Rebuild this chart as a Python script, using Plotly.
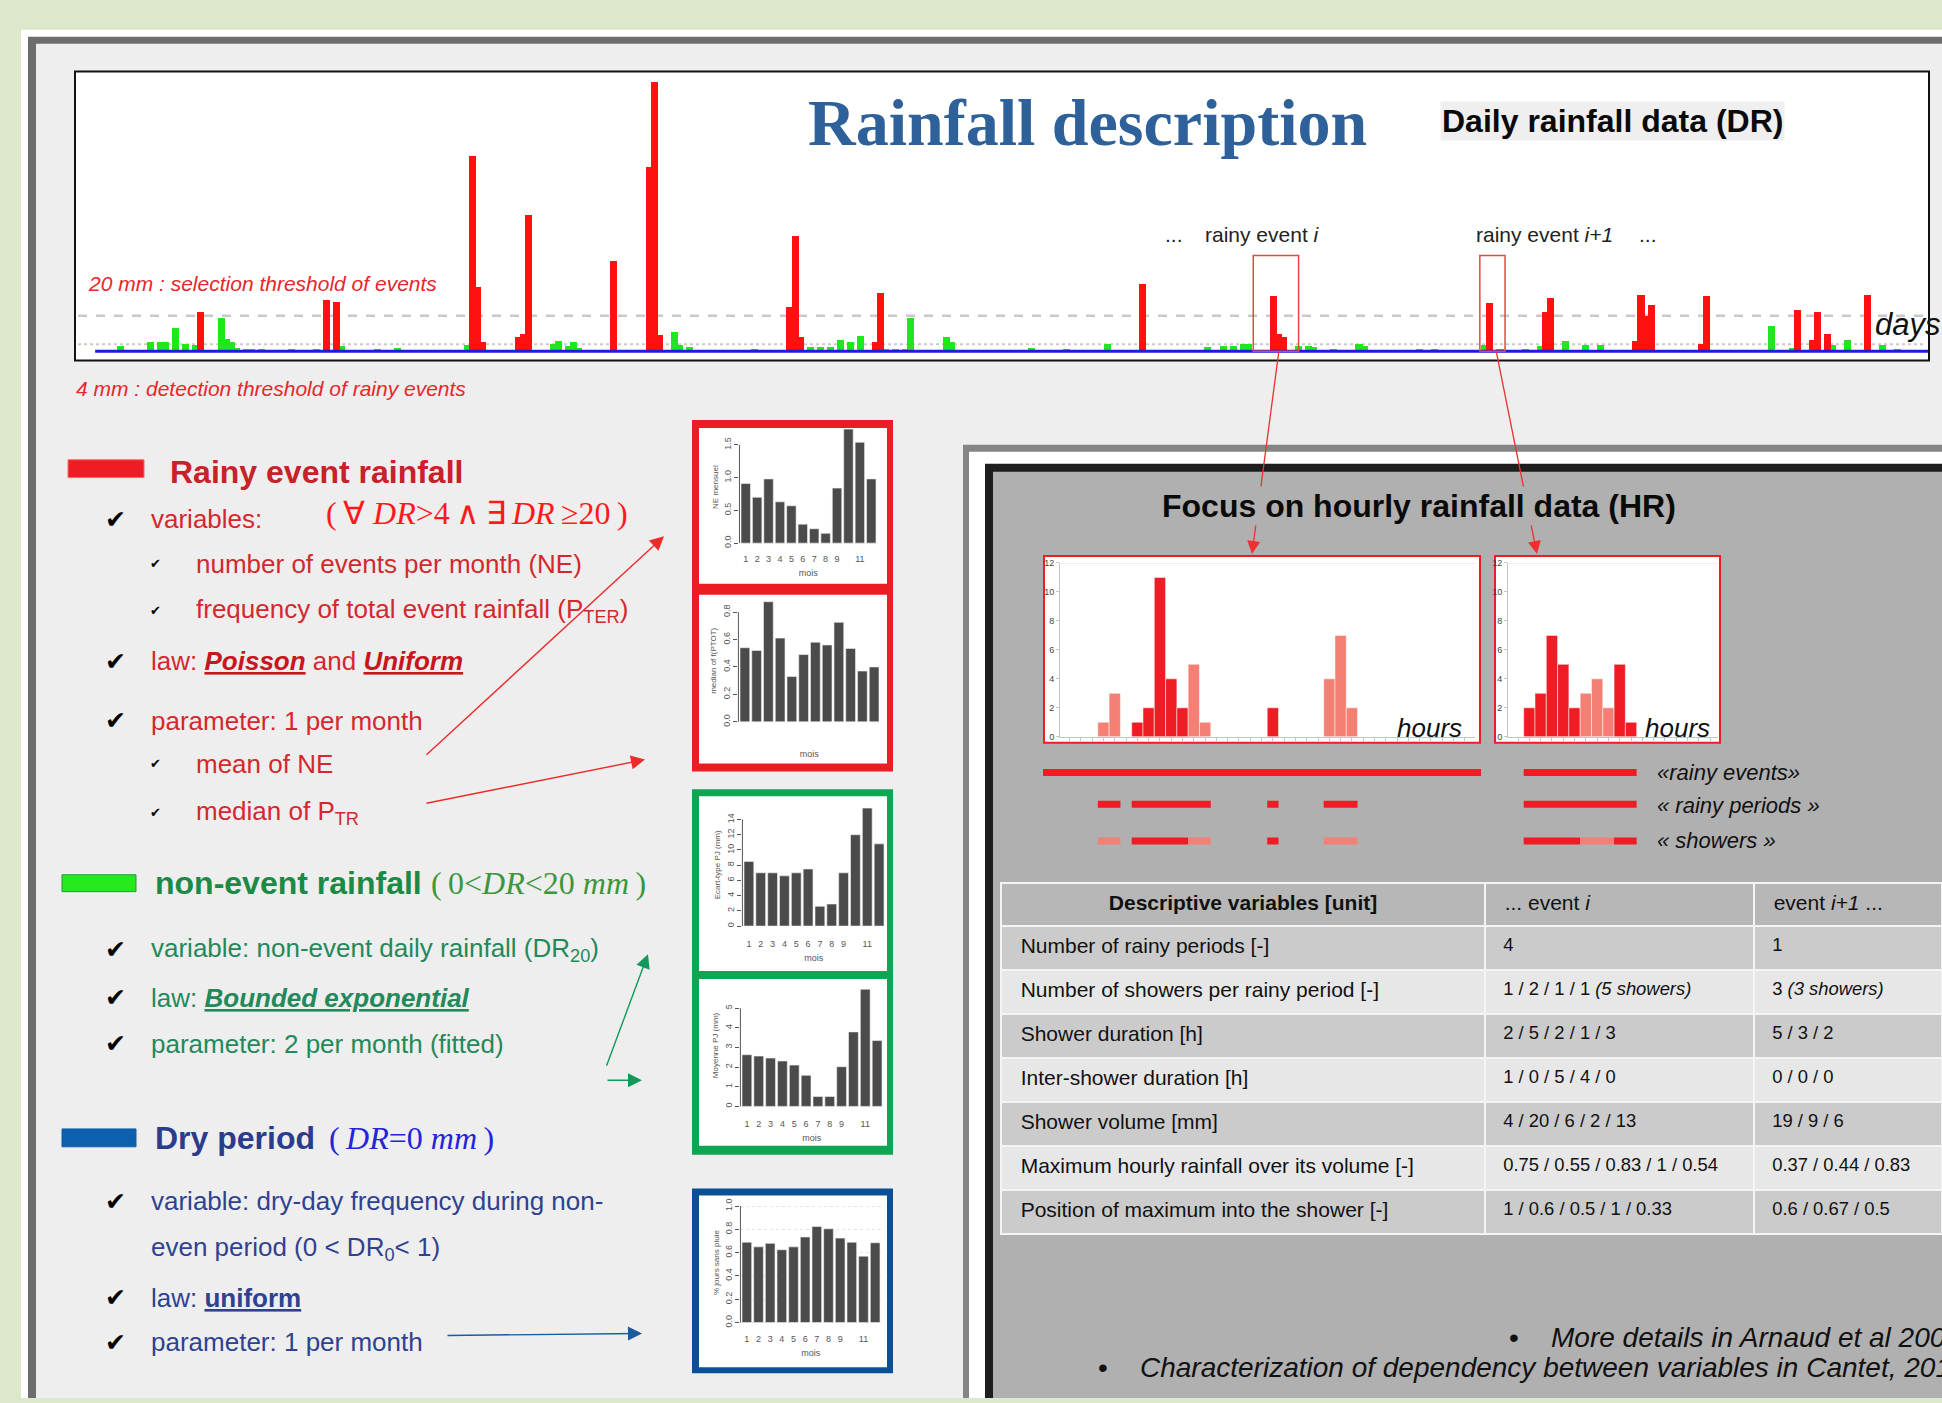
import plotly.graph_objects as go

W, H = 1942, 1403


def X(p):
    return p / W


def Y(p):
    return 1 - p / H


# ------------------------------------------------------------------ data
# Daily rainfall series (one year, day index) -------------------------
days_range = [1, 365]
dry_level = 0
event_days = [22, 47, 49, 76, 77, 78, 85, 86, 87, 104, 111, 112, 113, 139, 140, 141, 156, 157,
              209, 235, 236, 237, 278, 289, 290, 307, 308, 309, 310, 320, 321, 339, 342, 343, 345, 353]
event_mm = [22, 29, 28, 110, 36, 5, 8, 10, 77, 51, 104, 152, 9, 25, 65, 8, 5, 33,
            38, 31, 10, 8, 27, 22, 30, 6, 32, 20, 26, 4, 31, 23, 6.5, 22, 10, 31.5]
nonevent_days = [6, 12, 14, 15, 17, 19, 21, 26, 27, 28, 29, 31, 32, 34, 40, 45, 50, 57, 61, 75,
                 92, 93, 95, 96, 97, 116, 117, 119, 122, 132, 143, 145, 147, 149, 151, 153, 158, 160,
                 162, 163, 170, 171, 187, 194, 202, 222, 225, 227, 229, 230, 240, 242, 243, 247, 252,
                 253, 264, 267, 277, 280, 285, 288, 293, 297, 300, 334, 338, 346, 349, 356, 359]
nonevent_mm = [3, 5, 5, 5, 13, 4, 3.5, 19, 7, 5, 2, 1.5, 1.5, 1.5, 1, 1, 3, 1.5, 2, 3.5,
               4, 6, 3, 5, 2, 11, 3.5, 2.5, 0.8, 1.5, 2.5, 2.5, 2.5, 6.5, 5, 8.5, 1.5, 1.5,
               1.5, 19, 8, 5, 2, 1, 4, 2.5, 3, 3, 4, 4, 3, 3, 2.5, 1, 4,
               3, 1, 1, 3.5, 1.5, 1, 3, 6, 3.5, 3.5, 14, 2, 3.5, 6.5, 3.5, 1.5]
selection_threshold = 20
detection_threshold = 4
event_windows = [(231, 240), (276, 281)]   # rainy event i and i+1 (days)
event_window_top = 54                       # mm

# Monthly statistics (mini R barplots) ----------------------------------
months = list(range(1, 13))
month_ticks = [1, 2, 3, 4, 5, 6, 7, 8, 9, 11]
ne_monthly = [0.91, 0.70, 0.98, 0.63, 0.57, 0.29, 0.22, 0.15, 0.84, 1.74, 1.54, 0.98]
ptr_median = [0.54, 0.52, 0.875, 0.61, 0.33, 0.49, 0.58, 0.56, 0.725, 0.535, 0.37, 0.40]
dr20_std = [8.5, 7.0, 7.0, 6.6, 7.0, 7.5, 2.6, 2.9, 7.0, 12.0, 15.5, 10.8]
dr20_mean = [2.63, 2.56, 2.46, 2.31, 2.10, 1.58, 0.50, 0.50, 2.02, 3.79, 5.96, 3.35]
dry_freq = [0.69, 0.65, 0.68, 0.625, 0.65, 0.735, 0.825, 0.805, 0.725, 0.69, 0.57, 0.685]

# Hourly rainfall of the two highlighted events ------------------------
hours_i = [4, 5, 7, 8, 9, 10, 11, 12, 13, 19, 24, 25, 26]
rain_i = [1, 3, 1, 2, 11, 4, 2, 5, 1, 2, 4, 7, 2]
shower_i = [1, 1, 2, 2, 2, 2, 2, 3, 3, 4, 5, 5, 5]
hours_i1 = [2, 3, 4, 5, 6, 7, 8, 9, 10, 11]
rain_i1 = [2, 3, 7, 5, 2, 3, 4, 2, 5, 1]
shower_i1 = [1, 1, 1, 1, 1, 2, 2, 2, 3, 3]
RED, SALMON = "#ee1c24", "#f47f74"
shower_colors_i = {1: SALMON, 2: RED, 3: SALMON, 4: RED, 5: SALMON}
shower_colors_i1 = {1: RED, 2: SALMON, 3: RED}

# Table ----------------------------------------------------------------
table_header = ["<b>Descriptive variables [unit]</b>", "&nbsp;&nbsp;... event <i>i</i>",
                "&nbsp;&nbsp;event <i>i+1</i> ..."]
table_vars = ["Number of rainy periods [-]", "Number of showers per rainy period [-]",
              "Shower duration [h]", "Inter-shower duration [h]", "Shower volume [mm]",
              "Maximum hourly rainfall over its volume [-]", "Position of maximum into the shower [-]"]
table_event_i = ["4", "1 / 2 / 1 / 1 <i>(5 showers)</i>", "2 / 5 / 2 / 1 / 3", "1 / 0 / 5 / 4 / 0",
                 "4 / 20 / 6 / 2 / 13", "0.75 / 0.55 / 0.83 / 1 / 0.54", "1 / 0.6 / 0.5 / 1 / 0.33"]
table_event_i1 = ["1", "3 <i>(3 showers)</i>", "5 / 3 / 2", "0 / 0 / 0", "19 / 9 / 6",
                  "0.37 / 0.44 / 0.83", "0.6 / 0.67 / 0.5"]

# ------------------------------------------------------------------ figure
fig = go.Figure()
shapes = []
ann = []


def rect(x0, y0, x1, y1, fill, line=None, lw=0, layer="below"):
    shapes.append(dict(type="rect", xref="paper", yref="paper", x0=X(x0), x1=X(x1),
                       y0=Y(y1), y1=Y(y0), fillcolor=fill, layer=layer,
                       line=dict(color=line or fill, width=lw)))


def txt(x, y, s, size=26, color="#000", family="Liberation Sans", xanchor="left", bg=None):
    d = dict(x=X(x), y=Y(y), xref="paper", yref="paper", text=s, showarrow=False,
             xanchor=xanchor, yanchor="middle", font=dict(size=size, color=color, family=family))
    if bg:
        d["bgcolor"] = bg
    ann.append(d)


def arrow(tail, head, color, width=1.5, size=1.8):
    ann.append(dict(x=X(head[0]), y=Y(head[1]), xref="paper", yref="paper", text="",
                    showarrow=True, ax=tail[0] - head[0], ay=tail[1] - head[1],
                    arrowhead=2, arrowsize=size, arrowwidth=width, arrowcolor=color,
                    standoff=0, startstandoff=0))


# backgrounds
rect(21, 25, W, H, "#ffffff")
rect(28, 32, W, H, "#6d6d6d")
rect(36, 39, W, H, "#eeeeee")

# ---------------- daily chart
rect(75, 67, 1929, 358, "#ffffff", "#111111", 2)
shapes.append(dict(type="line", xref="paper", yref="y", x0=X(78), x1=X(1926),
                   y0=selection_threshold, y1=selection_threshold, layer="below",
                   line=dict(color="#c9c9c9", width=2.5, dash="dash")))
shapes.append(dict(type="line", xref="paper", yref="y", x0=X(78), x1=X(1926),
                   y0=detection_threshold, y1=detection_threshold, layer="below",
                   line=dict(color="#c9c9c9", width=2, dash="dot")))

fig.add_trace(go.Scatter(x=days_range, y=[dry_level, dry_level], mode="lines",
                         line=dict(color="#1c1cdc", width=3), xaxis="x", yaxis="y",
                         hoverinfo="skip"))
fig.add_trace(go.Bar(x=nonevent_days, y=nonevent_mm, width=1.4, marker=dict(color="#1fe61f", line=dict(width=0)),
                     xaxis="x", yaxis="y"))
fig.add_trace(go.Bar(x=event_days, y=event_mm, width=1.4, marker=dict(color="#ff1111", line=dict(width=0)),
                     xaxis="x", yaxis="y"))
for (a, b) in event_windows:
    shapes.append(dict(type="rect", xref="x", yref="y", x0=a, x1=b, y0=0, y1=event_window_top,
                       line=dict(color="#e94545", width=1.5), fillcolor="rgba(0,0,0,0)", layer="above"))

layout_axes = dict(
    xaxis=dict(domain=[X(75), X(1929)], range=[-3, 365.2], visible=False, anchor="y"),
    yaxis=dict(domain=[Y(358), Y(67)], range=[-5.2, 157.8], visible=False, anchor="x"),
)

# ---------------- mini R barplots (frames)
rect(692, 418, 893, 772, "#ec1c24")
rect(699, 426, 887, 583, "#ffffff")
rect(699, 594, 887, 764, "#ffffff")
rect(692, 790, 893, 1158, "#0fa653")
rect(699, 797, 887, 973, "#ffffff")
rect(699, 981, 887, 1149, "#ffffff")
rect(692, 1192, 893, 1378, "#0b4f94")
rect(699, 1199, 887, 1372, "#ffffff")

mini = [
    # values, bars_left, bars_right, y0_px, px_per_unit, yrange, ticks, ticktext, ylabel, xlabels, lab_stand, title_stand, grid
    (ne_monthly, 741, 876, 542, 66.0, [-0.05, 1.76], [0, 0.5, 1, 1.5], ["0.0", "0.5", "1.0", "1.5"],
     "NE mensuel", True, 6, 6, False),
    (ptr_median, 740, 879, 722, 138.3, [-0.03, 0.92], [0, 0.2, 0.4, 0.6, 0.8],
     ["0.0", "0.2", "0.4", "0.6", "0.8"], "median of f(PTOT)", False, 0, 24, False),
    (dr20_std, 744, 884, 927.7, 7.667, [-0.4, 16.5], [0, 2, 4, 6, 8, 10, 12, 14],
     ["0", "2", "4", "6", "8", "10", "12", "14"], "Ecart-type PJ (mm)", True, 8, 6, False),
    (dr20_mean, 742, 882, 1109.3, 19.8, [-0.1, 6.3], [0, 1, 2, 3, 4, 5],
     ["0", "1", "2", "3", "4", "5"], "Moyenne PJ (mm)", True, 9, 6, False),
    (dry_freq, 742, 880, 1327, 117.3, [-0.02, 1.05], [0, 0.2, 0.4, 0.6, 0.8, 1.0],
     ["0.0", "0.2", "0.4", "0.6", "0.8", "1.0"], "% jours sans pluie", True, 7, 6, True),
]
for k, (vals, bl, br, y0px, ppu, yr, tv, tt, ylab, xl, ls, ts, grid) in enumerate(mini):
    n = k + 2
    xa, ya = f"x{n}", f"y{n}"
    ppx = (br - bl) / 11.83
    dl = bl - 0.135 * ppx
    dr = br + 0.085 * ppx
    top = y0px - yr[1] * ppu
    bot = y0px - yr[0] * ppu
    fig.add_trace(go.Bar(x=months, y=vals, width=0.83,
                         marker=dict(color="#4b4b4b", line=dict(color="#f2f2f2", width=0.6)),
                         xaxis=xa, yaxis=ya))
    layout_axes[f"xaxis{n}"] = dict(domain=[X(dl), X(dr)], range=[0.45, 12.5], anchor=ya,
                                   showgrid=False, zeroline=False, showline=False, ticks="",
                                   tickmode="array", tickvals=month_ticks if xl else [],
                                   ticktext=[str(m) for m in month_ticks] if xl else [],
                                   showticklabels=xl, tickfont=dict(size=9, color="#555"),
                                   ticklabelstandoff=ls,
                                   title=dict(text="mois", font=dict(size=9, color="#555"), standoff=ts))
    layout_axes[f"yaxis{n}"] = dict(domain=[Y(bot), Y(top)], range=yr, anchor=xa,
                                   showgrid=grid, gridcolor="#e4e4e4", griddash="dot",
                                   zeroline=False, showline=False, ticks="outside", ticklen=4,
                                   tickcolor="#555", tickmode="array", tickvals=tv, ticktext=tt,
                                   tickangle=-90, tickfont=dict(size=9, color="#555"),
                                   title=dict(text=ylab, font=dict(size=8, color="#555"), standoff=3))
    shapes.append(dict(type="line", xref="paper", yref=ya, x0=X(dl), x1=X(dl), y0=tv[0], y1=tv[-1],
                       line=dict(color="#555", width=1), layer="above"))

# ---------------- right panel
rect(963, 443, W, H, "#858585")
rect(969, 450, W, H, "#ffffff")
rect(985, 462, W, H, "#1e1e1e")
rect(993, 470, W, H, "#b0b0b0")

# hourly panels
rect(1044, 555, 1480, 743, "#ffffff", RED, 2)
rect(1495, 555, 1720, 743, "#ffffff", RED, 2)

fig.add_trace(go.Bar(x=hours_i, y=rain_i, width=1, marker=dict(color=[shower_colors_i[s] for s in shower_i],
                                                                line=dict(color="#ffffff", width=0.5)),
                     xaxis="x7", yaxis="y7"))
fig.add_trace(go.Bar(x=hours_i1, y=rain_i1, width=1, marker=dict(color=[shower_colors_i1[s] for s in shower_i1],
                                                                  line=dict(color="#ffffff", width=0.5)),
                     xaxis="x8", yaxis="y8"))
hour_ax = dict(showgrid=False, zeroline=False, showline=True, linecolor="#c4c4c4", linewidth=1,
               ticks="outside", ticklen=3, tickcolor="#c4c4c4", dtick=1, tick0=0, showticklabels=False)
hour_yax = dict(showgrid=False, zeroline=False, showline=True, linecolor="#c4c4c4", linewidth=1,
                ticks="outside", ticklen=3, tickcolor="#c4c4c4", range=[0, 12.0],
                tickvals=[0, 2, 4, 6, 8, 10, 12], tickfont=dict(size=9, color="#444"))
layout_axes["xaxis7"] = dict(hour_ax, domain=[X(1060), X(1475)], range=[0.15, 36.9], anchor="y7")
layout_axes["yaxis7"] = dict(hour_yax, domain=[Y(737), Y(562)], anchor="x7")
layout_axes["xaxis8"] = dict(hour_ax, domain=[X(1508), X(1718)], range=[0.11, 18.7], anchor="y8")
layout_axes["yaxis8"] = dict(hour_yax, domain=[Y(737), Y(562)], anchor="x8")
for xa, ya in (("x7 domain", "y7"), ("x8 domain", "y8")):
    shapes.append(dict(type="line", xref=xa, yref=ya, x0=0, x1=1, y0=12, y1=12,
                       line=dict(color="#dddddd", width=1), layer="below"))


# legend segments (rainy events / rainy periods / showers) derived from hourly data
def groups(keys, hours):
    out = []
    for h, k in zip(hours, keys):
        if out and out[-1][0] == k:
            out[-1][2] = h
        else:
            out.append([k, h, h])
    return out


def seg(xref, a, b, ypx, color, width=7):
    shapes.append(dict(type="line", xref=xref, yref="paper", x0=a, x1=b, y0=Y(ypx), y1=Y(ypx),
                       line=dict(color=color, width=width), layer="above"))


EV_Y, PER_Y, SH_Y = 773, 805, 842
seg("paper", X(1043), X(1481), EV_Y, RED)
seg("x8", hours_i1[0] - 0.5, hours_i1[-1] + 0.5, EV_Y, RED)
for xref, hrs in (("x7", hours_i), ("x8", hours_i1)):
    period_id = []
    pid = 0
    for j, h in enumerate(hrs):
        if j > 0 and h != hrs[j - 1] + 1:
            pid += 1
        period_id.append(pid)
    for _, a, b in groups(period_id, hrs):
        seg(xref, a - 0.5, b + 0.5, PER_Y, RED)
for xref, hrs, sh, cols in (("x7", hours_i, shower_i, shower_colors_i), ("x8", hours_i1, shower_i1, shower_colors_i1)):
    for k, a, b in groups(sh, hrs):
        seg(xref, a - 0.5, b + 0.5, SH_Y, cols[k])

# table
row_fill = ["#cbcbcb" if r % 2 == 0 else "#e7e7e7" for r in range(len(table_vars))]
fig.add_trace(go.Table(
    domain=dict(x=[X(1001), 1], y=[Y(1240), Y(884)]),
    columnwidth=[484, 269, 188],
    header=dict(values=table_header, height=43, fill_color="#b7b7b7",
                line=dict(color="#f4f4f4", width=2), align=["center", "left", "left"],
                font=dict(size=21, color="#111", family="Liberation Sans")),
    cells=dict(values=[["&nbsp;&nbsp;" + v for v in table_vars],
                       ["&nbsp;&nbsp;" + v for v in table_event_i],
                       ["&nbsp;&nbsp;" + v for v in table_event_i1]],
               height=44, fill_color=[row_fill] * 3, line=dict(color="#f4f4f4", width=2),
               align="left", font=dict(size=[21, 18.4, 18.4], color="#111", family="Liberation Sans")),
))

# ---------------- arrows (under text)
arrow((1279, 349), (1252, 553), "#ee3030", 1.3, 2)
arrow((1496, 349), (1537, 553), "#ee3030", 1.3, 2)
arrow((425, 755), (664, 535), "#ee2b2b", 1.4, 2)
arrow((425, 804), (645, 760), "#ee2b2b", 1.4, 2)
arrow((606, 1069), (648, 956), "#12995a", 1.4, 2)
arrow((606, 1083), (642, 1083), "#12995a", 1.4, 2)
arrow((446, 1340), (642, 1338), "#1a5a9e", 1.4, 2)

# ---------------- texts: top
txt(1087, 118, "<b>Rainfall description</b>", 66, "#2e6099", "Liberation Serif", "center")
txt(1612, 117, "<b>Daily rainfall data (DR)</b>", 32, "#0a0a0a", xanchor="center", bg="#efefef")
txt(1163, 231, "...", 21, "#222")
txt(1203, 231, "rainy event <i>i</i>", 21, "#222")
txt(1474, 231, "rainy event <i>i+1</i>", 21, "#222")
txt(1637, 231, "...", 21, "#222")
txt(86, 281, "<i>20 mm : selection threshold of events</i>", 21, "#e8262b")
txt(74, 386, "<i>4 mm : detection threshold of rainy events</i>", 21, "#e8262b")
txt(1873, 322, "<i>days</i>", 31, "#111")

# ---------------- texts: left column
CHECK_BIG, CHECK_SMALL = 25, 13


def check(y, big=True):
    if big:
        txt(115, y, "✔", CHECK_BIG, "#000", "DejaVu Sans", "center")
    else:
        txt(155, y, "✔", CHECK_SMALL, "#000", "DejaVu Sans", "center")


TS = "\u2009"
RT, RB, RF, RU = "#c9202a", "#d4282f", "#ff1a1a", "#c8161d"
rect(68, 458, 144, 476, "#ee1c24", "#f07070", 1)
txt(168, 470, "<b>Rainy event rainfall</b>", 32, RT)
check(518)
txt(149, 518, "variables:", 26, RB)
txt(324, 512, f"({TS}∀ <i>DR</i>&gt;4{TS}∧{TS}∃{TS}<i>DR</i>{TS}≥20{TS})", 32, RF, "Liberation Serif")
check(563, False)
txt(194, 563, "number of events per month (NE)", 26, RB)
check(610, False)
txt(194, 610, "frequency of total event rainfall (P<sub>TER</sub>)", 26, RB)
check(661)
txt(149, 661, f"law: <span style='color:{RU}'><b><i><u>Poisson</u></i></b></span> and "
              f"<span style='color:{RU}'><b><i><u>Uniform</u></i></b></span>", 26, RB)
check(721)
txt(149, 721, "parameter: 1 per month", 26, RB)
check(764, False)
txt(194, 764, "mean of NE", 26, RB)
check(813, False)
txt(194, 813, "median of P<sub>TR</sub>", 26, RB)

GT, GB, GF = "#1b8a45", "#23895a", "#3c963c"
rect(62, 876, 136, 893, "#27ea1d", "#1c9e35", 1)
txt(153, 884, "<b>non-event rainfall</b>", 32, GT)
txt(429, 884, f"({TS}0&lt;<i>DR</i>&lt;20 <i>mm</i>{TS})", 32, GF, "Liberation Serif")
check(951)
txt(149, 951, "variable: non-event daily rainfall (DR<sub>20</sub>)", 26, GB)
check(1000)
txt(149, 1000, "law: <b><i><u>Bounded exponential</u></i></b>", 26, GB)
check(1046)
txt(149, 1046, "parameter: 2 per month (fitted)", 26, GB)

BT, BB, BF = "#2a3c8c", "#2e4290", "#2424d8"
rect(62, 1132, 136, 1150, "#0d5fb0", "#0d5fb0", 1)
txt(153, 1141, "<b>Dry period</b>", 32, BT)
txt(327, 1141, f"({TS}<i>DR</i>=0 <i>mm</i>{TS})", 32, BF, "Liberation Serif")
check(1205)
txt(149, 1205, "variable: dry-day frequency during non-", 26, BB)
txt(149, 1252, "even period (0 &lt; DR<sub>0</sub>&lt; 1)", 26, BB)
check(1302)
txt(149, 1302, "law: <b><u>uniform</u></b>", 26, BB)
check(1347)
txt(149, 1347, "parameter: 1 per month", 26, BB)

# ---------------- texts: right panel
txt(1419, 505, "<b>Focus on hourly rainfall data (HR)</b>", 32, "#0a0a0a", xanchor="center", bg="#b0b0b0")
txt(1395, 728, "<i>hours</i>", 26, "#111")
txt(1643, 728, "<i>hours</i>", 26, "#111")
txt(1655, 773, "<i>«rainy events»</i>", 22, "#111")
txt(1655, 806, "<i>« rainy periods »</i>", 22, "#111")
txt(1655, 841, "<i>« showers »</i>", 22, "#111")
txt(1507, 1342, "•", 28, "#111")
txt(1549, 1342, "<i>More details in Arnaud et al 2007</i>", 28, "#111")
txt(1096, 1372, "•", 28, "#111")
txt(1138, 1372, "<i>Characterization of dependency between variables in Cantet, 2014</i>", 28, "#111")

fig.update_layout(
    width=W, height=H, margin=dict(l=0, r=0, t=0, b=0, pad=0),
    paper_bgcolor="#dde7c9", plot_bgcolor="rgba(0,0,0,0)",
    showlegend=False, barmode="overlay", bargap=0,
    font=dict(family="Liberation Sans", color="#111"),
    shapes=shapes, annotations=ann, **layout_axes,
)

fig.write_html("out.html", config={"displayModeBar": False, "staticPlot": True},
               post_script="document.body.style.margin='0';document.body.style.overflow='hidden';")
